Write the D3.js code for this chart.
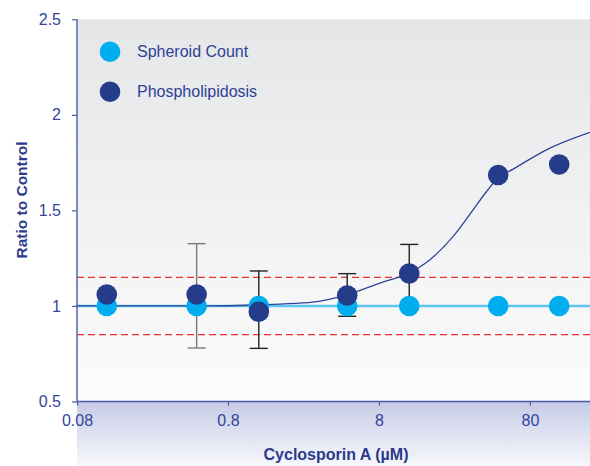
<!DOCTYPE html>
<html><head><meta charset="utf-8">
<script src="https://cdn.jsdelivr.net/npm/d3@7"></script>
<style>html,body{margin:0;padding:0;background:#fff;}svg{display:block;font-family:"Liberation Sans",Arial,Helvetica,sans-serif;}</style>
</head><body>
<svg id="chart" width="590" height="466"></svg>
<script>
// ---- data ----
const concentrations = [0.126, 0.496, 1.28, 4.93, 12.7, 49.3, 125];
const spheroidCount = [1.0, 1.0, 1.0, 1.0, 1.0, 1.0, 1.0];
const phospholipidosis = [1.06, 1.06, 0.97, 1.055, 1.17, 1.685, 1.74];
const errLow  = [null, 0.78, 0.778, 0.946, 1.0, null, null];
const errHigh = [null, 1.326, 1.183, 1.169, 1.322, null, null];
const errColor = ["#222", "#7a7a7a", "#222", "#222", "#222", "#222", "#222"];
// fitted curve
const fitConc  = [0.08, 0.52, 1.77, 2.92, 4.89, 8.13, 12.7, 17.4, 24.8, 33.7, 41.3, 49.3, 62.0, 103, 200];
const fitValue = [1.0, 1.0, 1.01, 1.02, 1.058, 1.12, 1.173, 1.242, 1.364, 1.504, 1.599, 1.669, 1.716, 1.817, 1.908];
const thresholds = [0.85, 1.15];
const xTicks = [0.08, 0.8, 8, 80];
const yTicks = [0.5, 1, 1.5, 2, 2.5];
const seriesNames = ["Spheroid Count", "Phospholipidosis"];
const seriesColors = ["#00adee", "#253c8a"];

// ---- layout ----
const svg = d3.select("#chart");
const L = 77, R = 590, T = 19.3, B = 401.5;
const x = d3.scaleLog().domain([0.08, 200]).range([L, R]);
const y = d3.scaleLinear().domain([0.5, 2.5]).range([B, T]);

const defs = svg.append("defs");
const g1 = defs.append("linearGradient").attr("id","plotbg").attr("x1",0).attr("y1",0).attr("x2",0).attr("y2",1);
g1.append("stop").attr("offset","0").attr("stop-color","#e5e6e8");
g1.append("stop").attr("offset","1").attr("stop-color","#fcfcfc");
const g2 = defs.append("linearGradient").attr("id","axbg").attr("x1",0).attr("y1",0).attr("x2",0).attr("y2",1);
g2.append("stop").attr("offset","0").attr("stop-color","#c6cbe6");
g2.append("stop").attr("offset","1").attr("stop-color","#f7f8fc");

svg.append("rect").attr("x",L).attr("y",T).attr("width",R-L).attr("height",B-T).attr("fill","url(#plotbg)");
svg.append("rect").attr("x",L).attr("y",B).attr("width",R-L).attr("height",466-B).attr("fill","url(#axbg)");

// threshold dashed lines
svg.selectAll("line.thr").data(thresholds).join("line")
  .attr("x1",L).attr("x2",R).attr("y1",d=>y(d)).attr("y2",d=>y(d))
  .attr("stroke","#e4312f").attr("stroke-width",1.3).attr("stroke-dasharray","7,4");

// spheroid fit line (flat)
svg.append("path")
  .datum(fitConc.map(c=>[c,1.0]))
  .attr("d", d3.line().x(d=>x(d[0])).y(d=>y(d[1])))
  .attr("fill","none").attr("stroke","#5ec6f2").attr("stroke-width",2.6);

// phospholipidosis fit curve
svg.append("path")
  .datum(fitConc.map((c,i)=>[c,fitValue[i]]))
  .attr("d", d3.line().x(d=>x(d[0])).y(d=>y(d[1])).curve(d3.curveMonotoneX))
  .attr("fill","none").attr("stroke","#2e4596").attr("stroke-width",1.3);

// error bars
const eb = concentrations.map((c,i)=>({c, lo:errLow[i], hi:errHigh[i], col:errColor[i]})).filter(d=>d.lo!==null);
const ebg = svg.append("g");
eb.forEach(d=>{
  const cx = x(d.c);
  ebg.append("line").attr("x1",cx).attr("x2",cx).attr("y1",y(d.lo)).attr("y2",y(d.hi)).attr("stroke",d.col).attr("stroke-width",1.4);
  [d.lo,d.hi].forEach(v=>ebg.append("line").attr("x1",cx-9).attr("x2",cx+9).attr("y1",y(v)).attr("y2",y(v)).attr("stroke",d.col).attr("stroke-width",1.4));
});

// points
svg.append("g").selectAll("circle").data(concentrations).join("circle")
  .attr("cx",d=>x(d)).attr("cy",(d,i)=>y(spheroidCount[i])).attr("r",10.3).attr("fill",seriesColors[0]);
svg.append("g").selectAll("circle").data(concentrations).join("circle")
  .attr("cx",d=>x(d)).attr("cy",(d,i)=>y(phospholipidosis[i])).attr("r",10.3).attr("fill",seriesColors[1]);

// axes
const axisColor = "#4a5aa6", textColor = "#33449a";
const yAxis = svg.append("g").attr("transform",`translate(${L},0)`)
  .call(d3.axisLeft(y).tickValues(yTicks).tickFormat(d3.format("")).tickSize(5).tickPadding(11));
const xAxis = svg.append("g").attr("transform",`translate(0,${B})`)
  .call(d3.axisBottom(x).tickValues(xTicks).tickFormat(d=>String(d)).tickSize(4).tickPadding(9));
[yAxis,xAxis].forEach(a=>{
  a.select(".domain").attr("stroke",axisColor).attr("stroke-width",1.4);
  a.selectAll(".tick line").attr("stroke",axisColor).attr("stroke-width",1.2);
  a.selectAll(".tick text").attr("fill",textColor).attr("font-size","16px").attr("font-family","Liberation Sans, Arial, sans-serif");
});
yAxis.select(".domain").attr("d",`M0,${T}V${B}`);
xAxis.select(".domain").attr("d",`M${L},0H${R}`);

// axis titles
svg.append("text").attr("transform","translate(27,200) rotate(-90)").attr("text-anchor","middle")
  .attr("font-weight","bold").attr("font-size","15.5px").attr("fill","#2b3b8c").text("Ratio to Control");
svg.append("text").attr("x",336).attr("y",460).attr("text-anchor","middle")
  .attr("font-weight","bold").attr("font-size","16px").attr("fill","#2b3b8c").text("Cyclosporin A (µM)");

// legend
const lg = svg.append("g");
seriesNames.forEach((n,i)=>{
  const cy = 51.7 + i*40;
  lg.append("circle").attr("cx",110).attr("cy",cy).attr("r",10.3).attr("fill",seriesColors[i]);
  lg.append("text").attr("x",137).attr("y",cy+5.5).attr("font-size","16px").attr("fill","#2f4197").text(n);
});
</script>
</body></html>
